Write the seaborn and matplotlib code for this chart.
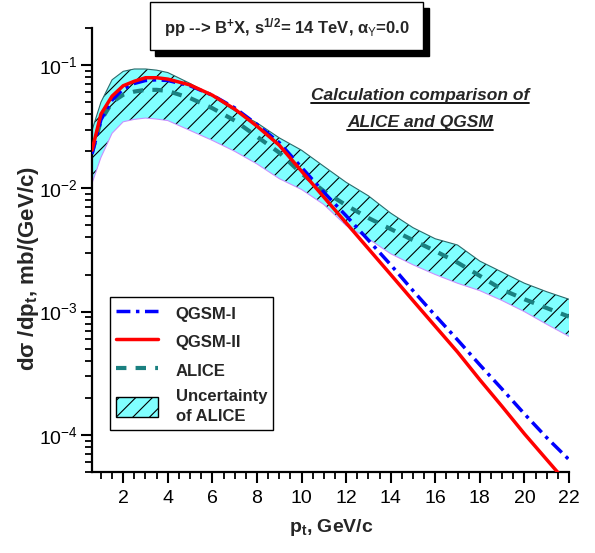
import matplotlib
matplotlib.use("Agg")
import matplotlib.pyplot as plt
import seaborn as sns
from matplotlib import font_manager
from matplotlib.patches import Rectangle, Patch
from matplotlib.lines import Line2D
from matplotlib.ticker import MultipleLocator, LogLocator, NullFormatter

# transverse momentum grid, GeV/c
pt = [0.6, 1.0, 1.5, 2.0, 2.5, 3.0, 3.5, 4.0, 5.0, 6.0, 7.0, 8.0, 9.0, 10.0,
      11.0, 12.0, 13.0, 14.0, 15.0, 16.0, 17.0, 18.0, 19.0, 20.0, 21.0, 22.0]

qgsm1 = [0.019, 0.036, 0.052, 0.064, 0.071, 0.075, 0.076, 0.075, 0.068, 0.057,
         0.045, 0.033, 0.0235, 0.0148, 0.0093, 0.0060, 0.0038, 0.0024, 0.00148,
         9.3e-4, 5.9e-4, 3.7e-4, 2.35e-4, 1.48e-4, 9.5e-5, 6.3e-5]

qgsm2 = [0.0204, 0.040, 0.056, 0.068, 0.074, 0.079, 0.079, 0.077, 0.069, 0.057,
         0.044, 0.032, 0.0224, 0.0138, 0.0085, 0.00525, 0.00324, 0.0020, 0.00123,
         7.6e-4, 4.7e-4, 2.8e-4, 1.7e-4, 1.02e-4, 6.3e-5, 3.9e-5]

alice = [0.0195, 0.0355, 0.050, 0.0575, 0.061, 0.063, 0.063, 0.0617, 0.054, 0.0447,
         0.0355, 0.0263, 0.0195, 0.0132, 0.0095, 0.0073, 0.00575, 0.00468, 0.0038,
         0.0031, 0.0025, 0.00195, 0.00151, 0.00126, 0.00107, 9.1e-4]

alice_hi = [0.0295, 0.050, 0.076, 0.089, 0.093, 0.093, 0.091, 0.087, 0.071, 0.056,
            0.0427, 0.034, 0.0257, 0.0204, 0.0151, 0.0112, 0.0087, 0.0063, 0.0048,
            0.0039, 0.00347, 0.00257, 0.00209, 0.0017, 0.00145, 0.00126]

alice_lo = [0.011, 0.0178, 0.028, 0.0347, 0.0363, 0.0372, 0.0365, 0.0355, 0.0295, 0.0245,
            0.020, 0.0158, 0.012, 0.0098, 0.0074, 0.0050, 0.0039, 0.00295, 0.0024,
            0.0020, 0.0017, 0.00148, 0.00123, 0.0010, 7.9e-4, 6.3e-4]

sns.set_style("ticks")
names = {f.name for f in font_manager.fontManager.ttflist}
base = "Liberation Sans Narrow" if "Liberation Sans Narrow" in names else "Liberation Sans"
plt.rcParams["font.family"] = [base, "DejaVu Sans"]
plt.rcParams["mathtext.fontset"] = "custom"
plt.rcParams["mathtext.rm"] = base
plt.rcParams["mathtext.it"] = base + ":italic"
plt.rcParams["mathtext.bf"] = base + ":bold"
plt.rcParams["hatch.color"] = "black"
plt.rcParams["hatch.linewidth"] = 0.8

W, H = 595, 553
fig = plt.figure(figsize=(W / 100, H / 100), dpi=100)
ax = fig.add_axes([92 / W, 1 - 472 / H, (569 - 92) / W, (472 - 28) / H])

# uncertainty band
ax.fill_between(pt, alice_lo, alice_hi, facecolor="#80ffff", edgecolor="black",
                hatch="//", linewidth=0, zorder=1)
ax.plot(pt, alice_hi, color="#2a6a6a", lw=0.8, zorder=2)
ax.plot(pt, alice_lo, color="#c890ff", lw=0.8, zorder=2)

sns.lineplot(x=pt, y=alice, ax=ax, color="#1a8080", lw=3,
             linestyle=(0, (2.5, 2.2)), zorder=3)
sns.lineplot(x=pt, y=qgsm1, ax=ax, color="#0000ff", lw=2.5,
             linestyle=(0, (4, 1.6, 1, 1.6)), zorder=4)
sns.lineplot(x=pt, y=qgsm2, ax=ax, color="#ff0000", lw=2.5, zorder=5)

ax.set_yscale("log")
ax.set_xlim(0.6, 22)
ax.set_ylim(5e-5, 0.2)
ax.xaxis.set_major_locator(MultipleLocator(2))
ax.xaxis.set_minor_locator(MultipleLocator(0.5))
ax.yaxis.set_major_locator(LogLocator(base=10))
ax.yaxis.set_minor_locator(LogLocator(base=10, subs=range(2, 10)))
ax.yaxis.set_minor_formatter(NullFormatter())
ax.tick_params(which="major", direction="out", length=8, width=1.5, labelsize=14,
               color="black", labelcolor="black")
ax.tick_params(which="minor", direction="out", length=5, width=1.3, color="black")
ax.tick_params(axis="y", which="major", pad=2)
ax.tick_params(axis="x", which="major", pad=5)
for s in ["top", "right"]:
    ax.spines[s].set_visible(False)
for s in ["left", "bottom"]:
    ax.spines[s].set_linewidth(1.6)
    ax.spines[s].set_color("black")
ax.grid(False)

fig.text(29 / W, 1 - 268 / H, "dσ /dp$_\\mathbf{t}$, mb/(GeV/c)", rotation=90,
         fontsize=16, fontweight="bold", ha="center", va="center")
fig.text(331 / W, 1 - 527 / H, "p$_\\mathbf{t}$, GeV/c", fontsize=14,
         fontweight="bold", ha="center", va="center")

# legend
handles = [
    Line2D([], [], color="#0000ff", lw=2.5, linestyle=(0, (4, 1.6, 1, 1.6))),
    Line2D([], [], color="#ff0000", lw=2.5),
    Line2D([], [], color="#1a8080", lw=3, linestyle=(0, (2.5, 2.2))),
    Patch(facecolor="#80ffff", edgecolor="black", hatch="//", linewidth=1),
]
labels = ["QGSM-I", "QGSM-II", "ALICE", "Uncertainty\nof ALICE"]
leg = ax.legend(handles, labels, loc="upper left",
                bbox_to_anchor=(110 / W, 1 - 297 / H),
                bbox_transform=fig.transFigure, fancybox=False, framealpha=1,
                edgecolor="black", prop={"weight": "bold", "size": 12},
                handlelength=2.5, handleheight=1.5, handletextpad=1.1,
                labelspacing=0.5, borderpad=0.35, borderaxespad=0)
leg.get_frame().set_linewidth(1.0)
leg.get_texts()[3].set_linespacing(1.45)

# title box with shadow
fig.add_artist(Rectangle((155 / W, 1 - 56 / H), (429 - 155) / W, (56 - 8) / H,
                         transform=fig.transFigure, facecolor="black",
                         edgecolor="black"))
fig.add_artist(Rectangle((150 / W, 1 - 50 / H), (423 - 150) / W, (50 - 2) / H,
                         transform=fig.transFigure, facecolor="white",
                         edgecolor="black", lw=1))
fig.text(287 / W, 1 - 28 / H,
         "pp --> B$^\\mathbf{+}$X, s$^\\mathbf{1/2}$= 14 TeV, α$_\\mathrm{Y}$=0.0",
         fontsize=12, fontweight="bold", ha="center", va="center")

# underlined note
notes = []
for txt, yb in [("Calculation comparison of", 100), ("ALICE and QGSM", 127)]:
    t = fig.text(420 / W, 1 - yb / H, txt, fontsize=12.5, fontweight="bold",
                 style="italic", ha="center", va="baseline")
    notes.append((t, yb))
fig.canvas.draw()
for t, yb in notes:
    bb = t.get_window_extent()
    yl = 1 - (yb + 3) / H
    fig.add_artist(Line2D([bb.x0 / W, bb.x1 / W], [yl, yl],
                          transform=fig.transFigure, color="black", lw=1.3))

fig.savefig("out.png", dpi=100)
